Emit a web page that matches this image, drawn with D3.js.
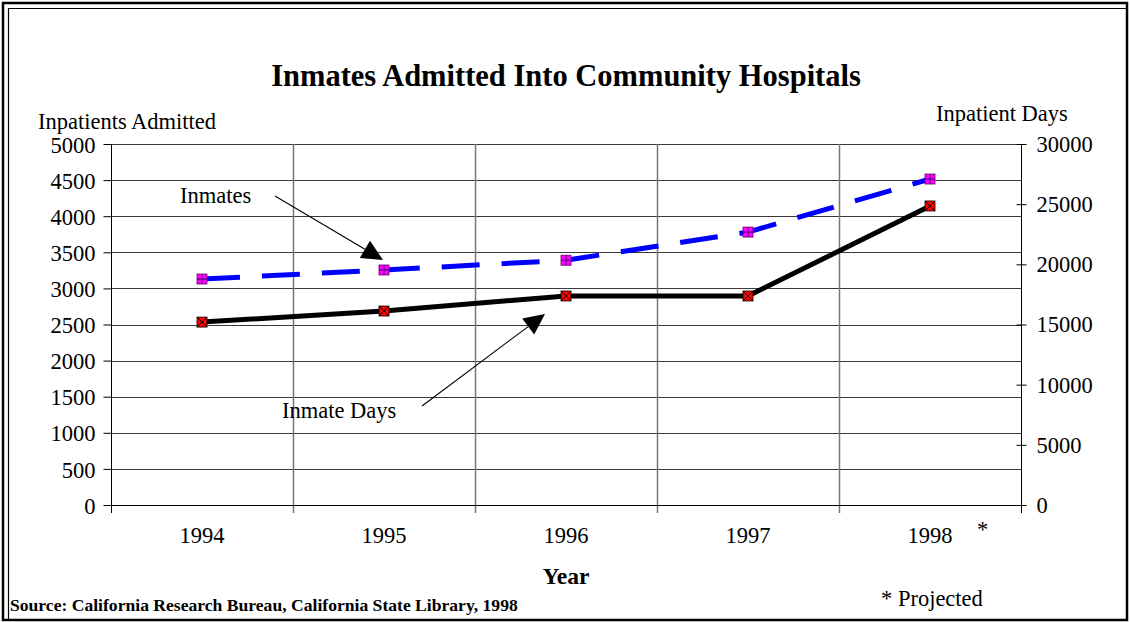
<!DOCTYPE html>
<html>
<head>
<meta charset="utf-8">
<script src="https://cdn.jsdelivr.net/npm/d3@7"></script>
<style>
  body { margin: 0; background: #fff; }
  text { font-family: "Liberation Serif", "Times New Roman", serif; fill: #000; }
</style>
</head>
<body>
<div id="chart"></div>
<script>
var years = ["1994", "1995", "1996", "1997", "1998"];
var inmates = [3130, 3255, 3390, 3780, 4515];
var inmateDays = [15200, 16120, 17370, 17370, 24850];
var leftTicks = [0, 500, 1000, 1500, 2000, 2500, 3000, 3500, 4000, 4500, 5000];
var rightTicks = [0, 5000, 10000, 15000, 20000, 25000, 30000];

var W = 1130, H = 622;
var margin = {top: 144, right: 109, bottom: 117, left: 111},
    width = W - margin.left - margin.right,
    height = H - margin.top - margin.bottom;

var fs = 22.5;

var svg = d3.select("#chart").append("svg")
  .attr("width", W)
  .attr("height", H);

// double frame
svg.append("rect").attr("x", 3).attr("y", 3).attr("width", 1124).attr("height", 617)
  .attr("fill", "none").attr("stroke", "#000").attr("stroke-width", 2.5);
svg.append("path").attr("d", "M8.5,621 V8.5 H1127")
  .attr("fill", "none").attr("stroke", "#000").attr("stroke-width", 1.2);

var g = svg.append("g")
  .attr("transform", "translate(" + margin.left + "," + margin.top + ")");

var x = d3.scaleBand().domain(years).range([0, width]);
var y0 = d3.scaleLinear().domain([0, 5000]).range([height, 0]);
var y1 = d3.scaleLinear().domain([0, 30000]).range([height, 0]);

// horizontal grid
g.append("g").selectAll("line").data(leftTicks).enter().append("line")
  .attr("x1", 0).attr("x2", width)
  .attr("y1", d => Math.round(y0(d)) + 0.5).attr("y2", d => Math.round(y0(d)) + 0.5)
  .attr("stroke", "#3a3a3a").attr("stroke-width", 1.2);

// vertical grid at category boundaries
var bounds = years.slice(1).map(d => x(d));
g.append("g").selectAll("line").data(bounds).enter().append("line")
  .attr("x1", d => Math.round(d) + 0.5).attr("x2", d => Math.round(d) + 0.5)
  .attr("y1", 0).attr("y2", height + 8)
  .attr("stroke", "#777").attr("stroke-width", 1.5);

// left axis
var yAxisLeft = d3.axisLeft(y0).tickValues(leftTicks).tickSize(8).tickFormat(d3.format("d"));
var la = g.append("g").attr("transform", "translate(0.5,0)").call(yAxisLeft);
la.select(".domain").remove();
la.selectAll("text").attr("font-size", fs).attr("x", -16).attr("dy", "0.36em")
  .style("font-family", "Liberation Serif");
la.append("line").attr("y1", 0).attr("y2", height + 8).attr("stroke", "#000");

// right axis
var yAxisRight = d3.axisRight(y1).tickValues(rightTicks).tickSize(5).tickFormat(d3.format("d"));
var ra = g.append("g").attr("transform", "translate(" + (width + 0.5) + ",0)").call(yAxisRight);
ra.select(".domain").remove();
ra.selectAll(".tick line").attr("x1", -5);
ra.selectAll("text").attr("font-size", fs).attr("x", 15).attr("dy", "0.33em")
  .attr("text-anchor", "start").style("font-family", "Liberation Serif");
ra.append("line").attr("y1", 0).attr("y2", height + 8).attr("stroke", "#000");

// bottom axis
g.append("line").attr("x1", 0).attr("x2", width)
  .attr("y1", height + 0.5).attr("y2", height + 0.5).attr("stroke", "#000").attr("stroke-width", 1.2);
g.append("g").selectAll("text").data(years).enter().append("text")
  .attr("x", d => x(d) + x.bandwidth() / 2)
  .attr("y", height + 38)
  .attr("text-anchor", "middle")
  .attr("font-size", fs)
  .text(d => d);

// lines
var cx = d => x(d) + x.bandwidth() / 2;
var lineLeft = d3.line().x((d, i) => cx(years[i])).y(d => y0(d));
var lineRight = d3.line().x((d, i) => cx(years[i])).y(d => y1(d));

g.append("path").datum(inmateDays)
  .attr("d", lineRight)
  .attr("fill", "none").attr("stroke", "#000").attr("stroke-width", 5);

g.append("path").datum(inmates)
  .attr("d", lineLeft)
  .attr("fill", "none").attr("stroke", "#0000ff").attr("stroke-width", 5)
  .attr("stroke-dasharray", "38,22");

// markers
var s = 10;
var mk1 = g.append("g").selectAll("g").data(inmates).enter().append("g")
  .attr("transform", (d, i) => "translate(" + cx(years[i]) + "," + y0(d) + ")");
mk1.append("rect").attr("x", -s / 2).attr("y", -s / 2).attr("width", s).attr("height", s)
  .attr("fill", "#ff00ff").attr("stroke", "#660066").attr("stroke-width", 0.8);
mk1.append("path").attr("d", "M-5,0H5M0,-5V5").attr("stroke", "#40007f").attr("stroke-width", 1);

var mk2 = g.append("g").selectAll("g").data(inmateDays).enter().append("g")
  .attr("transform", (d, i) => "translate(" + cx(years[i]) + "," + y1(d) + ")");
mk2.append("rect").attr("x", -s / 2).attr("y", -s / 2).attr("width", s).attr("height", s)
  .attr("fill", "#ff0000").attr("stroke", "#000").attr("stroke-width", 0.8);
mk2.append("path").attr("d", "M-5,-5L5,5M5,-5L-5,5").attr("stroke", "#000").attr("stroke-width", 1);

// annotations with arrows
function arrow(x1, yA, x2, yB) {
  var dx = x2 - x1, dy = yB - yA, len = Math.sqrt(dx * dx + dy * dy);
  var ux = dx / len, uy = dy / len, L = 21, hw = 10;
  var bx = x2 - ux * L, by = yB - uy * L;
  svg.append("line").attr("x1", x1).attr("y1", yA).attr("x2", bx).attr("y2", by)
    .attr("stroke", "#000").attr("stroke-width", 1.1);
  svg.append("polygon")
    .attr("points", [[x2, yB], [bx - uy * hw, by + ux * hw], [bx + uy * hw, by - ux * hw]].map(p => p.join(",")).join(" "))
    .attr("fill", "#000");
}
arrow(275, 196, 383, 260);
arrow(422, 406, 545, 314);

svg.append("text").attr("x", 180).attr("y", 203).attr("font-size", fs).text("Inmates");
svg.append("text").attr("x", 282).attr("y", 418).attr("font-size", fs).text("Inmate Days");

// titles and notes
svg.append("text").attr("x", 566).attr("y", 86).attr("text-anchor", "middle")
  .attr("font-size", 30.5).attr("font-weight", "bold")
  .text("Inmates Admitted Into Community Hospitals");
svg.append("text").attr("x", 38).attr("y", 129).attr("font-size", fs).text("Inpatients Admitted");
svg.append("text").attr("x", 936).attr("y", 121).attr("font-size", fs).text("Inpatient Days");
svg.append("text").attr("x", 566).attr("y", 584).attr("text-anchor", "middle")
  .attr("font-size", 23.5).attr("font-weight", "bold").text("Year");
svg.append("text").attr("x", 977).attr("y", 537).attr("font-size", fs).text("*");
svg.append("text").attr("x", 881).attr("y", 606).attr("font-size", fs).text("* Projected");
svg.append("text").attr("x", 10).attr("y", 611).attr("font-size", 17.6).attr("font-weight", "bold")
  .text("Source: California Research Bureau, California State Library, 1998");
</script>
</body>
</html>
